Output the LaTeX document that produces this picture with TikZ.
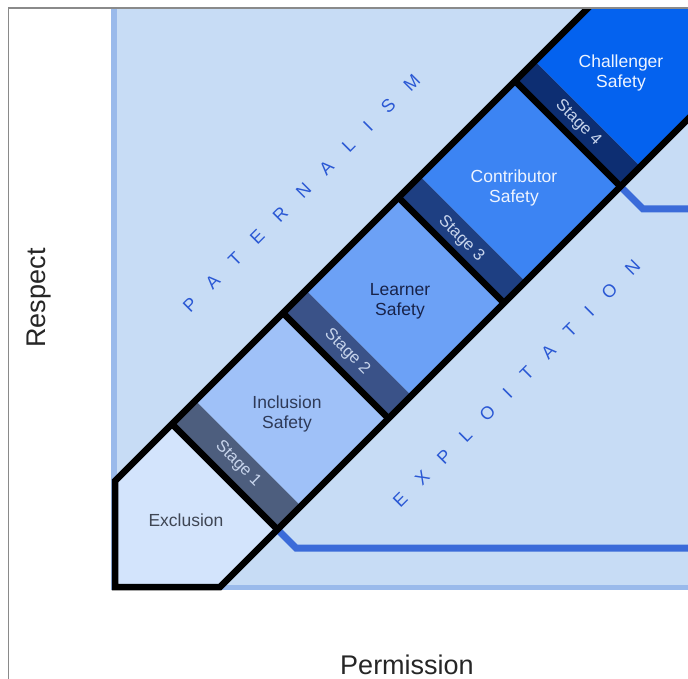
\documentclass[tikz,border=0pt]{standalone}
\usepackage{fontspec}
\setmainfont{Liberation Sans}
\setsansfont{Liberation Sans}
\definecolor{bgpanel}{HTML}{C7DCF5}
\definecolor{bgedge}{HTML}{9ABAEB}
\definecolor{frameg}{HTML}{8A8A8A}
\definecolor{explline}{HTML}{3B6BD9}
\definecolor{cExcl}{HTML}{D3E4FC}
\definecolor{cIncl}{HTML}{9FC1F8}
\definecolor{cLearn}{HTML}{6CA1F6}
\definecolor{cContr}{HTML}{3C84F3}
\definecolor{cChall}{HTML}{0462EF}
\definecolor{cSa}{HTML}{4D5E7E}
\definecolor{cSb}{HTML}{3A5288}
\definecolor{cSc}{HTML}{1E3F82}
\definecolor{cSd}{HTML}{0D2E72}
\definecolor{tExcl}{HTML}{3F4654}
\definecolor{tIncl}{HTML}{2E3A58}
\definecolor{tLearn}{HTML}{18234A}
\definecolor{tLight}{HTML}{EEF4FF}
\definecolor{tStage}{HTML}{C8D5EC}
\definecolor{tWord}{HTML}{2A58D4}
\newcommand\trk[2]{\def\trkgap{#1}\trkloop#2\trkstop}
\let\trkstop\relax
\def\trkloop#1{\ifx#1\trkstop\else#1\expandafter\trkmore\fi}
\def\trkmore#1{\ifx#1\trkstop\else\kern\trkgap\relax#1\expandafter\trkmore\fi}
\tikzset{
  blk/.style={draw=black, line width=6.5pt},
  boxlbl/.style={font=\fontsize{17.5}{20}\selectfont, align=center, inner sep=0pt},
  stagelbl/.style={font=\fontsize{16.5}{19}\selectfont, text=tStage, inner sep=0pt, rotate=-45},
  wordlbl/.style={font=\fontsize{18}{20}\selectfont, text=tWord, inner sep=0pt, rotate=45},
  axislbl/.style={font=\fontsize{27}{30}\selectfont, text=black!85, inner sep=0pt},
  expl/.style={draw=explline, line width=7pt, line join=miter},
  uv/.style={x={(0.5pt,-0.5pt)}, y={(0.5pt,0.5pt)}}
}
\begin{document}
\begin{tikzpicture}[x=1pt,y=-1pt]
\useasboundingbox (0,0) rectangle (688,679);
\clip (0,0) rectangle (688,679);
\fill[white] (0,0) rectangle (688,679);
% panel
\fill[bgpanel] (111,8) rectangle (700,590);
\draw[bgedge, line width=6pt] (114,8) -- (114,587.5);
\draw[bgedge, line width=5pt] (111,587.5) -- (700,587.5);
% exploitation boundary lines
\coordinate (ea0) at (277.5,529.5);
\coordinate (ea1) at (296,548);
\coordinate (ea2) at (700,548);
\coordinate (eb0) at (620.5,186.5);
\coordinate (eb1) at (643,209);
\coordinate (eb2) at (700,209);
\draw[expl] (ea0) -- (ea1) -- (ea2);
\draw[expl] (eb0) -- (eb1) -- (eb2);
% band
\begin{scope}
\clip (115,481) -- (588,8) -- (700,8) -- (700,107) -- (220,587) -- (115,587) -- cycle;
\begin{scope}[uv]
\fill[cExcl]  (550,-800) -- (850,-800) -- (850,-252) -- (550,-252) -- cycle;
\fill[cSa]    (550,-252) -- (850,-252) -- (850,-205) -- (550,-205) -- cycle;
\fill[cIncl]  (550,-205) -- (850,-205) -- (850,-30) -- (550,-30) -- cycle;
\fill[cSb]    (550,-30) -- (850,-30) -- (850,16) -- (550,16) -- cycle;
\fill[cLearn] (550,16) -- (850,16) -- (850,201) -- (550,201) -- cycle;
\fill[cSc]    (550,201) -- (850,201) -- (850,244) -- (550,244) -- cycle;
\fill[cContr] (550,244) -- (850,244) -- (850,434) -- (550,434) -- cycle;
\fill[cSd]    (550,434) -- (850,434) -- (850,474) -- (550,474) -- cycle;
\fill[cChall] (550,474) -- (850,474) -- (850,900) -- (550,900) -- cycle;
\end{scope}
\end{scope}
% dividers
\begin{scope}[uv]
\draw[blk] (596,-252) -- (807,-252);
\draw[blk] (596,-30) -- (807,-30);
\draw[blk] (596,201) -- (807,201);
\draw[blk] (596,434) -- (807,434);
\end{scope}
% outline
\begin{scope}
\clip (0,9) rectangle (700,700);
\draw[blk, line join=miter] (710,97) -- (220,587) -- (115,587) -- (115,481) -- (596,0);
\end{scope}
% box labels
\node[boxlbl, text=tExcl] (excl) at (186,520) {Exclusion};
\node[boxlbl, text=tIncl] (incl) at (287,414) {Inclusion\\Safety};
\node[boxlbl, text=tLearn] (learn) at (400,301) {Learner\\Safety};
\node[boxlbl, text=tLight] (contr) at (514,188) {Contributor\\Safety};
\node[boxlbl, text=tLight] (chall) at (621,73) {Challenger\\Safety};
% stage labels
\node[stagelbl] (s1) at (238,464) {Stage 1};
\node[stagelbl] (s2) at (347,352) {Stage 2};
\node[stagelbl] (s3) at (461,239) {Stage 3};
\node[stagelbl] (s4) at (578,123) {Stage 4};
% region words
\node[wordlbl] (pat) at (301.5,193) {\trk{20pt}{PATERNALISM}};
\node[wordlbl] (exp) at (516.5,384) {\trk{19.1pt}{EXPLOITATION}};
% axes labels
\node[axislbl, rotate=90] (resp) at (39,298) {Respect};
\node[axislbl] (perm) at (407,665) {Permission};
% frame
\draw[frameg, line width=1.6pt] (8.5,679) -- (8.5,8) -- (688,8);
\end{tikzpicture}
\end{document}
